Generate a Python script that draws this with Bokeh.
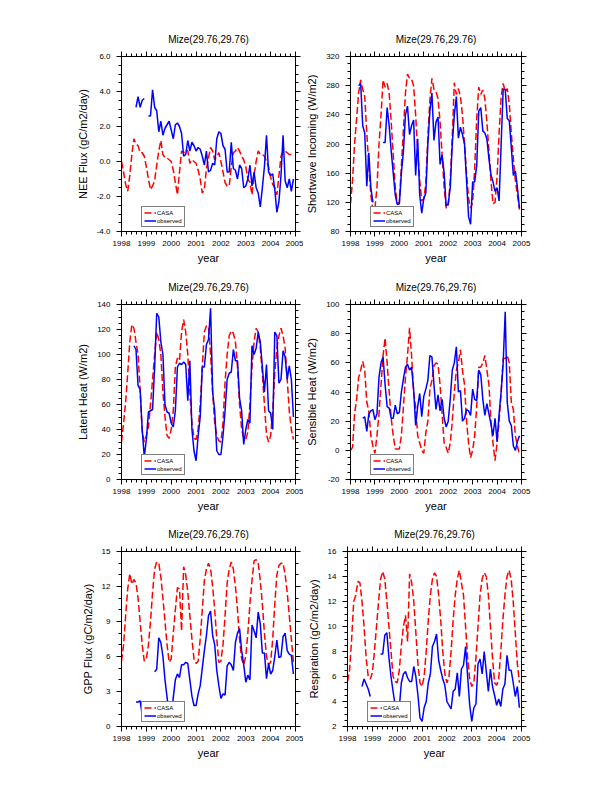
import numpy as np
from bokeh.plotting import figure
from bokeh.models import (LinearAxis, FixedTicker, NumeralTickFormatter, Legend,
                          LegendItem, Range1d, CustomLabelingPolicy)
from bokeh.layouts import column, row
from bokeh.embed import file_html
from bokeh.resources import INLINE

nan = float("nan")

# ---------------- data ----------------
years = [1998, 1999, 2000, 2001, 2002, 2003, 2004]
months = [y + m / 12.0 for y in years for m in range(12)]
x_ticks = [1998, 1999, 2000, 2001, 2002, 2003, 2004, 2005]
title_text = "Mize(29.76,29.76)"

nee_casa = [0.0, -0.6, -1.3, -1.7, -0.8, 0.4, 1.3, 1.0, 0.9, 0.5, 0.5, 0.3,
            -0.3, -1.0, -1.6, -1.4, -1.1, -0.2, 0.6, 1.2, 0.4, 0.2, 0.2, 0.1,
            0.0, -0.5, -1.2, -1.9, -0.6, 0.6, 0.5, 0.7, 0.6, -0.1, 0.1, 0.0,
            -0.1, -0.5, -1.0, -1.8, -1.6, -0.4, 0.2, 0.8, 0.6, 0.1, 0.3, 0.5,
            0.0, -0.6, -1.2, -1.4, -1.4, -0.3, 0.5, 0.6, 0.8, 0.6, 0.3, 0.1,
            -0.3, -1.0, -1.2, -1.9, -0.8, 0.0, 0.6, 0.4, 0.4, 0.3, 0.0, -0.3,
            -0.9, -1.3, -1.5, -1.9, -0.8, 0.3, 0.6, 0.6, 0.5, 0.4, 0.4, 0.3]
nee_obs = [nan, nan, nan, nan, nan, nan, nan, 3.1, 3.7, 3.1, 3.5, 3.6,
           nan, 2.6, 2.6, 4.1, 3.1, 2.9, 1.7, 2.3, 1.5, 1.9, 2.1, 2.3,
           1.8, 1.3, 2.1, 2.2, 2.0, 1.6, 0.3, 0.4, 1.2, 0.6, 1.1, 0.9,
           0.6, 0.8, 0.7, 0.3, -0.2, 0.6, -0.6, -0.5, -0.1, -0.2, 1.3, 1.7,
           1.6, 0.9, 0.7, -0.6, -0.6, 1.1, -0.4, -0.5, -1.0, -0.2, -0.4, -1.5,
           -1.4, -1.0, -0.2, -1.4, -0.6, -1.5, -1.8, -2.6, -1.5, -0.3, 1.5, -0.6,
           -0.8, -0.7, -1.6, -2.9, -2.3, -0.8, 1.5, -1.1, -1.5, -1.0, -1.7, -1.0]

sw_casa = [118, 150, 200, 235, 270, 288, 275, 265, 215, 170, 130, 108,
           112, 140, 200, 240, 288, 278, 283, 270, 230, 185, 140, 118,
           120, 170, 220, 270, 296, 290, 289, 280, 240, 190, 150, 122,
           125, 145, 210, 260, 290, 275, 272, 262, 230, 185, 140, 112,
           115, 150, 210, 284, 268, 276, 265, 240, 200, 160, 125, 112,
           120, 165, 235, 278, 268, 274, 262, 230, 190, 150, 118, 120,
           155, 215, 265, 283, 272, 276, 255, 215, 180, 150, 130, 110]
sw_obs = [nan, nan, nan, nan, 280, 283, 225, 215, 142, 188, 140, 120,
          nan, nan, nan, nan, 202, 202, 250, 225, 190, 160, 130, 117,
          118, 160, 190, 240, 252, 213, 225, 233, 157, 207, 130, 105,
          125, 133, 200, 245, 270, 205, 230, 237, 172, 185, 160, 115,
          118, 140, 200, 240, 265, 208, 223, 213, 200, 150, 100, 90,
          148, 148, 170, 245, 250, 218, 215, 207, 180, 158, 148, 135,
          140, 122, 200, 275, 275, 235, 232, 195, 157, 163, 140, 112]

le_casa = [30, 45, 62, 85, 110, 124, 121, 110, 100, 72, 38, 30,
           35, 42, 60, 80, 100, 118, 112, 100, 70, 50, 35, 33,
           40, 55, 90, 97, 95, 118, 128, 118, 100, 70, 45, 33,
           32, 40, 60, 90, 118, 123, 122, 100, 70, 45, 35, 31,
           30, 45, 78, 100, 115, 119, 117, 110, 90, 60, 40, 33,
           32, 38, 60, 90, 110, 121, 118, 105, 85, 60, 36, 30,
           35, 55, 85, 105, 115, 121, 115, 105, 80, 55, 40, 32]
le_obs = [nan, nan, nan, nan, nan, nan, 107, 104, 75, 72, 40, 18,
          32, 54, 55, 56, 90, 133, 130, 110, 100, 60, 54, 53,
          45, 42, 55, 90, 93, 92, 94, 92, 63, 95, 40, 23,
          15, 35, 50, 90, 90, 108, 112, 137, 70, 55, 23, 20,
          20, 35, 55, 80, 85, 86, 104, 95, 95, 65, 55, 28,
          40, 48, 45, 107, 100, 105, 118, 110, 90, 70, 92, 55,
          53, 40, 118, 115, 77, 80, 103, 98, 80, 91, 80, 50]

h_casa = [0, 2, 25, 35, 50, 55, 61, 55, 33, 27, 10, 3,
          -2, 10, 25, 45, 65, 77, 60, 40, 22, 10, 1, 1,
          1, 10, 30, 50, 65, 84, 65, 40, 30, 10, 5, 0,
          -2, 12, 20, 42, 48, 58, 60, 59, 45, 25, 5, 2,
          -2, 5, 20, 40, 55, 60, 69, 55, 45, 20, 5, -5,
          0, 10, 30, 57, 57, 60, 65, 55, 45, 20, 5, -7,
          5, 20, 40, 63, 63, 65, 60, 33, 28, 10, 3, -3]
h_obs = [nan, nan, nan, nan, nan, nan, 22, 23, 13, 25, 27, 28,
         21, 25, 50, 60, 64, 45, 30, 29, 22, 22, 31, 25,
         26, 40, 49, 57, 59, 55, 57, 42, 17, 30, 39, 23,
         37, 42, 48, 65, 64, 45, 28, 38, 27, 35, 22, 16,
         20, 35, 55, 60, 71, 40, 41, 20, 22, 28, 27, 24,
         42, 35, 34, 55, 52, 35, 24, 32, 25, 18, 10, 22,
         6, 25, 40, 60, 95, 33, 20, 17, 3, 0, 6, 10]

gpp_casa = [5.6, 7.0, 9.5, 11.8, 13.1, 12.2, 12.6, 12.3, 11.0, 9.0, 7.0, 5.6,
            5.8, 7.0, 9.0, 11.5, 13.5, 14.1, 14.0, 12.8, 11.0, 9.0, 7.0, 5.5,
            5.8, 8.0, 10.0, 11.9, 11.8, 8.2, 13.7, 13.0, 11.5, 9.5, 7.5, 5.8,
            5.4, 5.6, 7.5, 10.0, 12.5, 13.5, 14.0, 13.5, 12.0, 10.0, 7.5, 5.5,
            5.6, 7.0, 9.5, 12.3, 13.5, 14.1, 13.5, 12.0, 10.0, 7.5, 5.8, 5.3,
            6.0, 8.0, 10.5, 12.5, 14.2, 14.3, 14.0, 12.5, 10.5, 8.0, 6.0, 5.3,
            5.5, 7.5, 10.5, 13.0, 13.8, 14.0, 14.0, 13.0, 11.5, 9.5, 7.5, 5.5]
gpp_obs = [nan, nan, nan, nan, nan, nan, nan, 2.1, 2.1, 2.2, 1.0, 0.8,
           nan, nan, nan, nan, 4.7, 4.9, 7.6, 7.2, 6.0, 4.0, 2.5, 1.0,
           0.7, 2.5, 4.0, 4.5, 4.2, 5.3, 5.3, 5.5, 5.4, 4.0, 2.6, 1.8,
           1.8, 2.8, 3.5, 5.0, 6.5, 7.8, 9.5, 9.9, 7.8, 7.0, 4.8, 3.5,
           2.4, 2.8, 2.7, 5.2, 5.5, 5.3, 4.8, 7.2, 8.0, 8.4, 6.5, 5.3,
           3.8, 4.4, 4.0, 8.7, 8.2, 7.6, 9.8, 8.8, 6.3, 6.3, 4.1, 5.4,
           4.5, 4.8, 6.0, 7.4, 5.9, 6.0, 7.7, 8.0, 6.5, 6.2, 6.1, 4.5]

resp_casa = [5.6, 6.5, 9.0, 12.0, 12.5, 13.6, 13.5, 12.0, 10.0, 7.5, 6.0, 5.8,
             6.3, 8.0, 10.0, 12.0, 13.8, 14.4, 13.8, 12.0, 10.0, 8.0, 6.0, 5.6,
             5.5, 6.5, 8.5, 10.0, 10.9, 8.8, 14.2, 13.5, 12.0, 9.5, 7.0, 5.5,
             5.2, 6.0, 8.0, 10.5, 12.5, 13.8, 14.3, 14.0, 12.5, 10.5, 8.0, 6.2,
             5.5, 6.0, 8.0, 10.5, 12.5, 13.8, 14.5, 13.5, 12.5, 10.0, 7.5, 5.8,
             5.2, 5.5, 7.5, 10.0, 12.5, 13.8, 14.3, 14.0, 12.5, 10.0, 7.5, 5.5,
             5.3, 5.8, 8.0, 10.5, 12.5, 14.0, 14.5, 13.8, 12.0, 9.5, 7.0, 5.5]
resp_obs = [nan, nan, nan, nan, nan, nan, nan, 5.2, 5.8, 5.4, 5.0, 4.4,
            nan, nan, nan, nan, 7.8, 7.8, 9.3, 9.5, 7.5, 6.0, 4.8, 3.7,
            2.5, 3.5, 5.5, 6.2, 6.4, 5.9, 5.6, 5.6, 6.8, 6.0, 4.5, 2.7,
            2.4, 3.5, 4.0, 5.5, 6.2, 8.4, 8.8, 9.4, 7.3, 6.5, 5.8, 5.3,
            4.0, 3.7, 3.4, 4.8, 5.0, 6.3, 4.4, 6.6, 6.9, 8.4, 6.0, 3.7,
            2.4, 3.5, 3.8, 7.0, 7.4, 6.2, 8.0, 6.4, 4.8, 6.6, 5.2, 4.5,
            3.7, 4.2, 3.6, 5.0, 5.4, 7.7, 6.5, 6.5, 5.5, 4.4, 5.2, 3.5]

# ---------------- styling ----------------
FONT = "Liberation Sans"
FRAME_W, FRAME_H = 174, 175


def style_axis(ax, ticker, fmt=None, labels=True):
    ax.ticker = ticker
    if fmt is not None:
        ax.formatter = fmt
    ax.axis_line_color = "black"
    ax.axis_line_width = 1
    ax.major_tick_line_color = "black"
    ax.minor_tick_line_color = "black"
    ax.major_tick_in = 0
    ax.major_tick_out = 5
    ax.minor_tick_in = 0
    ax.minor_tick_out = 3
    ax.major_label_text_font = FONT
    ax.major_label_text_color = "black"
    ax.axis_label_text_font = FONT
    ax.axis_label_text_font_style = "normal"
    ax.axis_label_text_font_size = "11px"
    ax.axis_label_text_color = "black"
    if labels:
        ax.major_label_text_font_size = "8px"
    else:
        ax.major_label_text_font_size = "0px"
        ax.major_label_standoff = 0
        ax.major_label_policy = CustomLabelingPolicy(
            code="for (const i of indices) indices.unset(i)")


def panel(casa, obs, ylabel, yrange, yticks, yminor, fmt, left_col, top_b, bot_b):
    lb, rb = (121, 8) if left_col else (44, 20)
    p = figure(width=lb + FRAME_W + rb, height=top_b + FRAME_H + bot_b,
               x_range=Range1d(1998, 2005), y_range=Range1d(*yrange),
               output_backend="svg", toolbar_location=None,
               min_border_left=lb, min_border_right=rb,
               min_border_top=top_b, min_border_bottom=bot_b,
               x_axis_label="year", y_axis_label=ylabel)
    p.xgrid.visible = False
    p.ygrid.visible = False
    p.outline_line_color = "black"
    p.background_fill_color = "white"
    p.border_fill_color = "white"

    xminor = [1998 + k * 0.2 for k in range(36)]
    xt = FixedTicker(ticks=x_ticks, minor_ticks=xminor)
    yt = FixedTicker(ticks=yticks, minor_ticks=yminor)

    style_axis(p.xaxis[0], xt, NumeralTickFormatter(format="0"))
    p.xaxis[0].major_label_standoff = 4
    p.xaxis[0].axis_label_standoff = 3
    style_axis(p.yaxis[0], yt, NumeralTickFormatter(format=fmt))
    p.yaxis[0].major_label_standoff = 6
    p.yaxis[0].axis_label_standoff = 5

    top = LinearAxis()
    style_axis(top, FixedTicker(ticks=x_ticks, minor_ticks=xminor), labels=False)
    p.add_layout(top, "above")
    right = LinearAxis()
    style_axis(right, FixedTicker(ticks=yticks, minor_ticks=yminor), labels=False)
    p.add_layout(right, "right")

    p.title.text = title_text
    p.title.align = "center"
    p.title.text_font = FONT
    p.title.text_font_size = "10px"
    p.title.text_font_style = "normal"
    p.title.text_color = "black"
    p.title.standoff = 13

    r1 = p.line(months, np.array(casa, dtype=float), color="red",
                line_dash="7 3", line_width=1.5)
    r2 = p.line(months, np.array(obs, dtype=float), color="blue", line_width=1.5)

    leg = Legend(items=[LegendItem(label="CASA", renderers=[r1]),
                        LegendItem(label="observed", renderers=[r2])],
                 location=(20, 4))
    leg.label_text_font = FONT
    leg.label_text_font_size = "6px"
    leg.label_text_color = "black"
    leg.glyph_width = 12
    leg.glyph_height = 7
    leg.label_height = 7
    leg.label_standoff = 1
    leg.spacing = 1
    leg.padding = 2
    leg.margin = 0
    leg.border_line_color = "black"
    leg.border_line_width = 1
    leg.background_fill_alpha = 1.0
    p.add_layout(leg)
    return p


def frange(a, b, s):
    n = int(round((b - a) / s))
    return [a + k * s for k in range(n + 1)]


p1 = panel(nee_casa, nee_obs, "NEE Flux (gC/m2/day)", (-4, 6),
           [-4, -2, 0, 2, 4, 6], frange(-4, 6, 0.5), "0.0", True, 56, 40)
p2 = panel(sw_casa, sw_obs, "Shortwave Incoming (W/m2)", (80, 320),
           frange(80, 320, 40), frange(80, 320, 10), "0", False, 56, 40)
p3 = panel(le_casa, le_obs, "Latent Heat (W/m2)", (0, 140),
           frange(0, 140, 20), frange(0, 140, 5), "0", True, 33, 40)
p4 = panel(h_casa, h_obs, "Sensible Heat (W/m2)", (-20, 100),
           frange(-20, 100, 20), frange(-20, 100, 5), "0", False, 33, 40)
p5 = panel(gpp_casa, gpp_obs, "GPP Flux (gC/m2/day)", (0, 15),
           frange(0, 15, 3), frange(0, 15, 1), "0", True, 32, 40)
p6 = panel(resp_casa, resp_obs, "Respiration (gC/m2/day)", (2, 16),
           frange(2, 16, 2), frange(2, 16, 0.5), "0", False, 32, 40)

layout = column(row(p1, p2), row(p3, p4), row(p5, p6))
open("out.html", "w").write(file_html(layout, INLINE))
